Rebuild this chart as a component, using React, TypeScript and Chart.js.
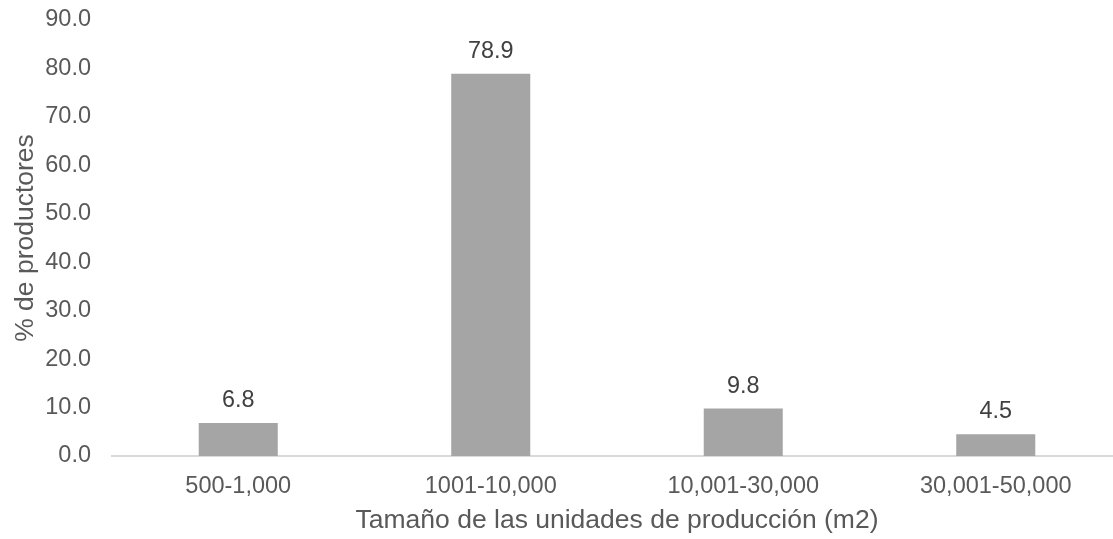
import React, { useEffect, useRef } from "react";
import { Chart, registerables } from "chart.js";

Chart.register(...registerables);

// Size classes of the production units (m2) and the share of producers in each
const categories: string[] = ["500-1,000", "1001-10,000", "10,001-30,000", "30,001-50,000"];
const producerShare: number[] = [6.8, 78.9, 9.8, 4.5];
const yTicks: number[] = [0, 10, 20, 30, 40, 50, 60, 70, 80, 90];

const FONT = "'Liberation Sans', Arial, Helvetica, sans-serif";
const AXIS_TEXT = "#595959";
const LABEL_TEXT = "#404040";
const BAR_FILL = "#A5A5A5";

// Writes each bar's value above it, with one decimal
const valueLabels = {
  id: "valueLabels",
  afterDatasetsDraw(chart: any) {
    const { ctx } = chart;
    const meta = chart.getDatasetMeta(0);
    const values = chart.data.datasets[0].data as number[];
    ctx.save();
    ctx.font = `23.4px ${FONT}`;
    ctx.fillStyle = LABEL_TEXT;
    ctx.textAlign = "center";
    ctx.textBaseline = "alphabetic";
    meta.data.forEach((bar: any, i: number) => {
      ctx.fillText(values[i].toFixed(1), bar.x, bar.y - 16);
    });
    ctx.restore();
  },
};

export default function App() {
  const canvasRef = useRef<HTMLCanvasElement | null>(null);

  useEffect(() => {
    document.body.style.margin = "0";
    const canvas = canvasRef.current;
    if (!canvas) return;
    const chart = new Chart(canvas, {
      type: "bar",
      data: {
        labels: categories,
        datasets: [
          {
            data: producerShare,
            backgroundColor: BAR_FILL,
            borderWidth: 0,
            categoryPercentage: 1,
            barPercentage: 0.313,
          },
        ],
      },
      options: {
        animation: false,
        responsive: false,
        maintainAspectRatio: false,
        layout: { padding: { top: 20, left: 0, right: 0, bottom: 0 } },
        plugins: {
          legend: { display: false },
          tooltip: { enabled: false },
          title: { display: false },
        },
        scales: {
          x: {
            grid: { display: false, drawTicks: false },
            border: { display: true, color: "#D9D9D9", width: 2 },
            ticks: {
              color: AXIS_TEXT,
              font: { family: FONT, size: 23.5 },
              padding: 16,
              maxRotation: 0,
              autoSkip: false,
            },
            title: {
              display: true,
              text: "Tamaño de las unidades de producción (m2)",
              color: AXIS_TEXT,
              font: { family: FONT, size: 26.5 },
              padding: { top: 3, bottom: 2 },
            },
            afterFit(scale: any) {
              scale.height = 83;
              scale.paddingLeft = 0;
              scale.paddingRight = 0;
            },
          },
          y: {
            min: 0,
            max: 90,
            afterBuildTicks(scale: any) {
              scale.ticks = yTicks.map((v) => ({ value: v }));
            },
            grid: { display: false, drawTicks: false },
            border: { display: false },
            ticks: {
              color: AXIS_TEXT,
              font: { family: FONT, size: 23.5 },
              padding: 21,
              callback: (v: any) => Number(v).toFixed(1),
            },
            title: {
              display: true,
              text: "% de productores",
              color: AXIS_TEXT,
              font: { family: FONT, size: 26.5 },
              padding: { top: 10, bottom: 7 },
            },
            afterFit(scale: any) {
              scale.width = 112;
              scale.paddingTop = 0;
              scale.paddingBottom = 0;
            },
          },
        },
      },
      plugins: [valueLabels],
    });
    return () => chart.destroy();
  }, []);

  return (
    <div
      style={{
        position: "fixed",
        left: 0,
        top: 0,
        width: 1113,
        height: 539,
        overflow: "hidden",
        background: "#ffffff",
      }}
    >
      <canvas ref={canvasRef} width={1122} height={539} style={{ width: 1122, height: 539, display: "block" }} />
    </div>
  );
}
